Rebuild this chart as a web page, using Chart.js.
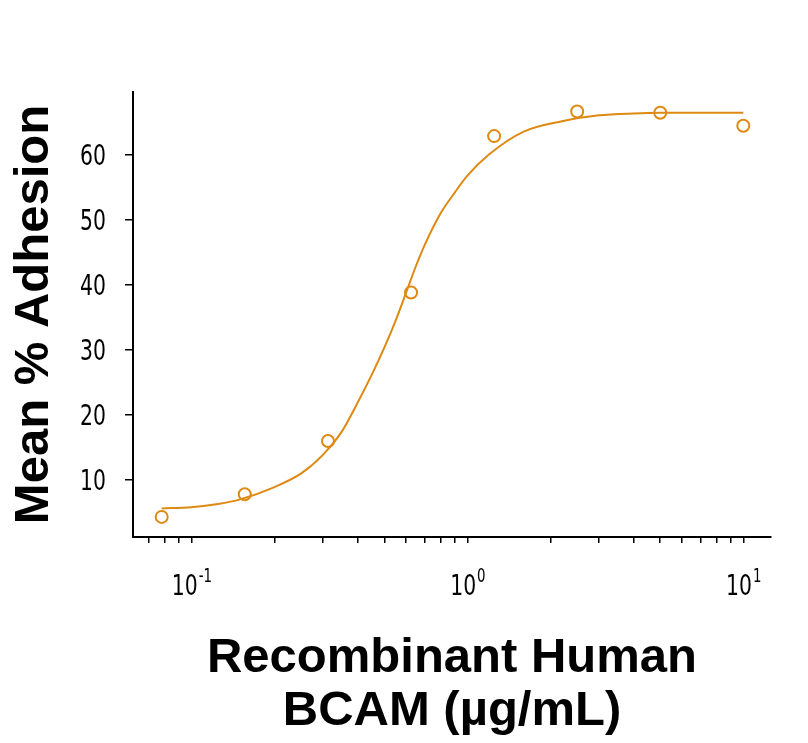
<!DOCTYPE html>
<html>
<head>
<meta charset="utf-8">
<script src="https://cdn.jsdelivr.net/npm/chart.js@4"></script>
<style>
  body { margin: 0; background: #fff; }
  #wrap { width: 808px; height: 743px; }
</style>
</head>
<body>
<div id="wrap"><canvas id="adhesionChart" width="808" height="743"></canvas></div>
<script>
// valores
const pointX = [0.078, 0.156, 0.3125, 0.625, 1.25, 2.5, 5, 10];
const pointY = [4.2, 7.7, 15.9, 38.8, 62.9, 66.7, 66.5, 64.5];

// curva ajustada (lida ponto a ponto da figura)
const curveX = [0.078, 0.1, 0.125, 0.15, 0.2, 0.25, 0.3, 0.35, 0.4, 0.45, 0.5, 0.55, 0.6, 0.65, 0.7, 0.8, 0.9, 1.0, 1.2, 1.6, 2.2, 3, 4, 5, 7, 10];
const curveY = [5.5, 5.7, 6.2, 6.9, 8.8, 10.9, 13.8, 17.3, 21.8, 26.1, 30.3, 34.5, 38.8, 42.8, 46.1, 51.0, 54.2, 56.8, 60.1, 63.6, 65.2, 66.1, 66.4, 66.5, 66.5, 66.5];

const yTicks = [10, 20, 30, 40, 50, 60];
const xMinorTicks = [0.07, 0.08, 0.09, 0.2, 0.3, 0.4, 0.5, 0.6, 0.7, 0.8, 0.9, 2, 3, 4, 5, 6, 7, 8, 9];
const xDecades = [0.1, 1, 10];
const xExponents = ['-1', '0', '1'];

const orange = '#de8a12';
const condensed = "'DejaVu Sans Condensed', 'DejaVu Sans', sans-serif";
const squeeze = 0.78; // fonte estreita como no original

// rótulos dos eixos em fonte condensada (10^n com expoente sobrescrito)
const tickLabels = {
    id: 'tickLabels',
    afterDraw(chart) {
        const ctx = chart.ctx;
        const xs = chart.scales.x;
        const ys = chart.scales.y;
        ctx.save();
        ctx.fillStyle = '#000';
        ctx.textBaseline = 'alphabetic';

        // eixo y
        ctx.font = '29px ' + condensed;
        ctx.textAlign = 'right';
        yTicks.forEach(v => {
            const py = ys.getPixelForValue(v);
            ctx.save();
            ctx.translate(106, py + 10.5);
            ctx.scale(squeeze, 1);
            ctx.fillText(String(v), 0, 0);
            ctx.restore();
        });

        // eixo x
        ctx.textAlign = 'left';
        xDecades.forEach((v, i) => {
            const px = xs.getPixelForValue(v);
            ctx.font = '29px ' + condensed;
            const wBase = ctx.measureText('10').width * squeeze;
            ctx.font = '19px ' + condensed;
            const wExp = ctx.measureText(xExponents[i]).width * squeeze;
            const left = px - (wBase + wExp) / 2;
            ctx.save();
            ctx.translate(left, 595);
            ctx.scale(squeeze, 1);
            ctx.font = '29px ' + condensed;
            ctx.fillText('10', 0, 0);
            ctx.restore();
            ctx.save();
            ctx.translate(left + wBase + 1, 582);
            ctx.scale(squeeze, 1);
            ctx.font = '19px ' + condensed;
            ctx.fillText(xExponents[i], 0, 0);
            ctx.restore();
        });
        ctx.restore();
    }
};

function buildChart() {
    const ctx = document.getElementById('adhesionChart').getContext('2d');
    new Chart(ctx, {
        type: 'scatter',
        data: {
            datasets: [
                {
                    label: 'Ajuste',
                    data: curveX.map((x, i) => ({ x: x, y: curveY[i] })),
                    showLine: true,
                    borderColor: orange,
                    borderWidth: 2,
                    pointRadius: 0,
                    cubicInterpolationMode: 'monotone',
                    fill: false
                },
                {
                    label: 'Adesão',
                    data: pointX.map((x, i) => ({ x: x, y: pointY[i] })),
                    showLine: false,
                    pointStyle: 'circle',
                    pointRadius: 6,
                    pointBorderWidth: 2,
                    borderColor: orange,
                    backgroundColor: 'rgba(0,0,0,0)'
                }
            ]
        },
        options: {
            responsive: false,
            animation: false,
            layout: { padding: { top: 92, right: 37, left: 0, bottom: 0 } },
            plugins: {
                legend: { display: false },
                tooltip: { enabled: false }
            },
            scales: {
                x: {
                    type: 'logarithmic',
                    position: 'bottom',
                    min: 0.0614,
                    max: 12.6,
                    afterBuildTicks: (s) => {
                        s.ticks = xMinorTicks.concat(xDecades).sort((a, b) => a - b).map(v => ({ value: v }));
                    },
                    afterFit: (s) => { s.height = 206; },
                    ticks: { display: false },
                    grid: { drawOnChartArea: false, drawTicks: true, tickLength: 6, color: '#000', lineWidth: 1.5 },
                    border: { display: true, color: '#000', width: 2 },
                    title: {
                        display: true,
                        text: ['Recombinant Human', 'BCAM (µg/mL)'],
                        color: '#000',
                        font: { family: "'Liberation Sans', Arial, sans-serif", size: 49, weight: 'bold', lineHeight: 53 / 49 },
                        padding: { top: 0, bottom: 5 }
                    }
                },
                y: {
                    type: 'linear',
                    min: 1.1,
                    max: 69.7,
                    afterBuildTicks: (s) => {
                        s.ticks = yTicks.map(v => ({ value: v }));
                    },
                    afterFit: (s) => { s.width = 133; },
                    ticks: { display: false },
                    grid: { drawOnChartArea: false, tickLength: 8, color: '#000', lineWidth: 1.5 },
                    border: { display: true, color: '#000', width: 2 },
                    title: {
                        display: true,
                        text: 'Mean % Adhesion',
                        color: '#000',
                        font: { family: "'Liberation Sans', Arial, sans-serif", size: 49, weight: 'bold', lineHeight: 1.2 },
                        padding: { top: 5, bottom: 0 }
                    }
                }
            }
        },
        plugins: [tickLabels]
    });
}

document.addEventListener('DOMContentLoaded', () => {
    buildChart();
});
</script>
</body>
</html>
